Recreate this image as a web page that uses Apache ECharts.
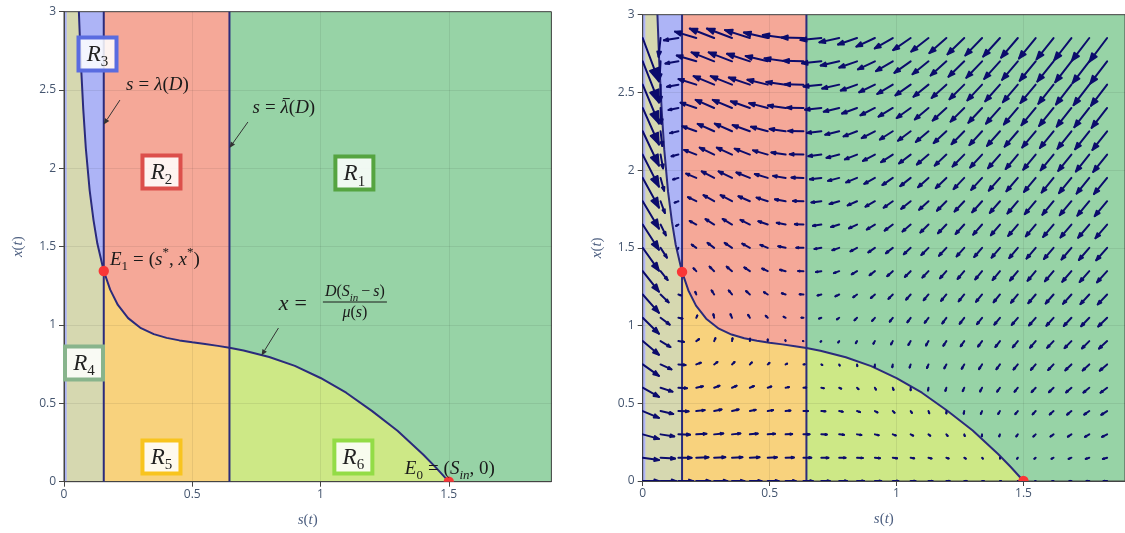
<!DOCTYPE html>
<html><head><meta charset="utf-8">
<script src="https://cdn.jsdelivr.net/npm/echarts@6/dist/echarts.min.js"></script>
<style>html,body{margin:0;padding:0;background:#fff}#c{width:1125px;height:533px}</style>
</head><body><div id="c"></div>
<script>
// ---------------- data ----------------
const sRange = [0, 1.9];
const xRange = [0, 3];
const sTicks = [0, 0.5, 1, 1.5];
const xTicks = [0, 0.5, 1, 1.5, 2, 2.5, 3];
const lambdaD = 0.155;      // s = lambda(D)
const lambdaBarD = 0.645;   // s = lambda-bar(D)
const sIn = 1.5;
const e1Point = [0.155, 1.345];
const e0Point = [1.5, 0];
const stripS = 0.012;       // thin light-blue strip along the x(t) axis

// nullcline x = D(Sin - s)/mu(s)
const nullS = [0.058, 0.065, 0.075, 0.085, 0.1, 0.115, 0.13, 0.155, 0.18, 0.21, 0.25, 0.3, 0.35, 0.4, 0.45, 0.5, 0.55, 0.6, 0.645, 0.7, 0.8, 0.9, 1.0, 1.1, 1.2, 1.3, 1.4, 1.45, 1.5];
const nullX = [3.0, 2.70, 2.38, 2.13, 1.86, 1.67, 1.52, 1.345, 1.226, 1.128, 1.044, 0.98, 0.942, 0.918, 0.902, 0.89, 0.879, 0.867, 0.855, 0.838, 0.796, 0.739, 0.662, 0.568, 0.452, 0.325, 0.174, 0.09, 0];

// quiver grid (columns in s, rows in x) and arrow components (per column, one value per row)
const quiverS = [0, 0.0704, 0.1407, 0.2111, 0.2815, 0.3519, 0.4222, 0.4926, 0.563, 0.6333, 0.7037, 0.7741, 0.8444, 0.9148, 0.9852, 1.0556, 1.1259, 1.1963, 1.2667, 1.337, 1.4074, 1.4778, 1.5481, 1.6185, 1.6889, 1.7593, 1.8296];
const quiverX = [0, 0.15, 0.3, 0.45, 0.6, 0.75, 0.9, 1.05, 1.2, 1.35, 1.5, 1.65, 1.8, 1.95, 2.1, 2.25, 2.4, 2.55, 2.7, 2.85];
const quiverU = [
[0.064,0.064,0.064,0.064,0.064,0.064,0.064,0.064,0.064,0.064,0.064,0.064,0.064,0.064,0.064,0.064,0.064,0.064,0.064,0.064],
[0.061,0.057,0.054,0.05,0.047,0.043,0.039,0.036,0.032,0.028,0.025,0.021,0.017,0.014,0.01,0.007,0.003,-0.001,-0.004,-0.008],
[0.058,0.052,0.046,0.04,0.034,0.028,0.022,0.016,0.01,0.003,-0.003,-0.009,-0.015,-0.021,-0.027,-0.033,-0.039,-0.045,-0.051,-0.057],
[0.055,0.048,0.04,0.033,0.026,0.018,0.011,0.004,-0.004,-0.011,-0.018,-0.026,-0.033,-0.04,-0.048,-0.055,-0.062,-0.07,-0.077,-0.084],
[0.052,0.044,0.036,0.029,0.021,0.013,0.005,-0.003,-0.01,-0.018,-0.026,-0.034,-0.042,-0.049,-0.057,-0.065,-0.073,-0.081,-0.089,-0.096],
[0.049,0.041,0.033,0.026,0.018,0.01,0.002,-0.006,-0.013,-0.021,-0.029,-0.037,-0.045,-0.053,-0.06,-0.068,-0.076,-0.084,-0.092,-0.099],
[0.046,0.038,0.031,0.023,0.016,0.008,0.001,-0.007,-0.015,-0.022,-0.03,-0.037,-0.045,-0.053,-0.06,-0.068,-0.075,-0.083,-0.09,-0.098],
[0.043,0.036,0.029,0.021,0.014,0.007,0,-0.008,-0.015,-0.022,-0.029,-0.037,-0.044,-0.051,-0.058,-0.066,-0.073,-0.08,-0.087,-0.094],
[0.04,0.033,0.026,0.019,0.013,0.006,-0.001,-0.008,-0.015,-0.022,-0.029,-0.035,-0.042,-0.049,-0.056,-0.063,-0.07,-0.076,-0.083,-0.09],
[0.037,0.031,0.024,0.018,0.011,0.005,-0.002,-0.008,-0.015,-0.021,-0.028,-0.034,-0.041,-0.047,-0.054,-0.06,-0.066,-0.073,-0.079,-0.086],
[0.034,0.028,0.022,0.016,0.01,0.004,-0.003,-0.009,-0.015,-0.021,-0.027,-0.033,-0.039,-0.045,-0.051,-0.057,-0.064,-0.07,-0.076,-0.082],
[0.031,0.025,0.019,0.014,0.008,0.002,-0.004,-0.009,-0.015,-0.021,-0.027,-0.032,-0.038,-0.044,-0.05,-0.055,-0.061,-0.067,-0.073,-0.078],
[0.028,0.023,0.017,0.012,0.006,0.001,-0.005,-0.01,-0.015,-0.021,-0.026,-0.032,-0.037,-0.043,-0.048,-0.053,-0.059,-0.064,-0.07,-0.075],
[0.025,0.02,0.015,0.01,0.004,-0.001,-0.006,-0.011,-0.016,-0.021,-0.026,-0.032,-0.037,-0.042,-0.047,-0.052,-0.057,-0.062,-0.067,-0.073],
[0.022,0.017,0.012,0.007,0.003,-0.002,-0.007,-0.012,-0.017,-0.022,-0.027,-0.032,-0.036,-0.041,-0.046,-0.051,-0.056,-0.061,-0.066,-0.071],
[0.019,0.014,0.01,0.005,0,-0.004,-0.009,-0.013,-0.018,-0.023,-0.027,-0.032,-0.037,-0.041,-0.046,-0.05,-0.055,-0.06,-0.064,-0.069],
[0.016,0.012,0.007,0.003,-0.002,-0.006,-0.01,-0.015,-0.019,-0.024,-0.028,-0.032,-0.037,-0.041,-0.046,-0.05,-0.054,-0.059,-0.063,-0.068],
[0.013,0.009,0.005,0,-0.004,-0.008,-0.012,-0.016,-0.021,-0.025,-0.029,-0.033,-0.037,-0.042,-0.046,-0.05,-0.054,-0.058,-0.062,-0.067],
[0.01,0.006,0.002,-0.002,-0.006,-0.01,-0.014,-0.018,-0.022,-0.026,-0.03,-0.034,-0.038,-0.042,-0.046,-0.05,-0.054,-0.058,-0.062,-0.066],
[0.007,0.003,-0.001,-0.005,-0.008,-0.012,-0.016,-0.02,-0.024,-0.027,-0.031,-0.035,-0.039,-0.043,-0.047,-0.05,-0.054,-0.058,-0.062,-0.066],
[0.004,0,-0.003,-0.007,-0.011,-0.014,-0.018,-0.022,-0.025,-0.029,-0.033,-0.036,-0.04,-0.044,-0.047,-0.051,-0.055,-0.058,-0.062,-0.066],
[0.001,-0.003,-0.006,-0.01,-0.013,-0.017,-0.02,-0.024,-0.027,-0.031,-0.034,-0.038,-0.041,-0.045,-0.048,-0.052,-0.055,-0.059,-0.062,-0.066],
[-0.002,-0.005,-0.009,-0.012,-0.016,-0.019,-0.022,-0.026,-0.029,-0.032,-0.036,-0.039,-0.043,-0.046,-0.049,-0.053,-0.056,-0.06,-0.063,-0.066],
[-0.005,-0.008,-0.012,-0.015,-0.018,-0.021,-0.025,-0.028,-0.031,-0.034,-0.038,-0.041,-0.044,-0.047,-0.051,-0.054,-0.057,-0.06,-0.064,-0.067],
[-0.008,-0.011,-0.014,-0.017,-0.021,-0.024,-0.027,-0.03,-0.033,-0.036,-0.039,-0.043,-0.046,-0.049,-0.052,-0.055,-0.058,-0.061,-0.064,-0.068],
[-0.011,-0.014,-0.017,-0.02,-0.023,-0.026,-0.029,-0.032,-0.035,-0.038,-0.041,-0.044,-0.047,-0.05,-0.053,-0.056,-0.059,-0.062,-0.066,-0.069],
[-0.014,-0.017,-0.02,-0.023,-0.026,-0.029,-0.032,-0.035,-0.037,-0.04,-0.043,-0.046,-0.049,-0.052,-0.055,-0.058,-0.061,-0.064,-0.067,-0.07]
];
const quiverV = [
[0,-0.015,-0.029,-0.044,-0.059,-0.074,-0.088,-0.103,-0.118,-0.132,-0.147,-0.162,-0.176,-0.191,-0.206,-0.221,-0.235,-0.25,-0.265,-0.279],
[0,-0.006,-0.013,-0.019,-0.025,-0.032,-0.038,-0.044,-0.051,-0.057,-0.063,-0.07,-0.076,-0.083,-0.089,-0.095,-0.102,-0.108,-0.114,-0.121],
[0,-0.001,-0.002,-0.002,-0.003,-0.004,-0.005,-0.005,-0.006,-0.007,-0.008,-0.009,-0.009,-0.01,-0.011,-0.012,-0.013,-0.013,-0.014,-0.015],
[0,0.002,0.004,0.006,0.009,0.011,0.013,0.015,0.017,0.019,0.021,0.023,0.026,0.028,0.03,0.032,0.034,0.036,0.038,0.041],
[0,0.003,0.006,0.01,0.013,0.016,0.019,0.023,0.026,0.029,0.032,0.035,0.039,0.042,0.045,0.048,0.052,0.055,0.058,0.061],
[0,0.003,0.006,0.01,0.013,0.016,0.019,0.023,0.026,0.029,0.032,0.036,0.039,0.042,0.045,0.049,0.052,0.055,0.058,0.061],
[0,0.003,0.005,0.008,0.011,0.013,0.016,0.019,0.022,0.024,0.027,0.03,0.032,0.035,0.038,0.04,0.043,0.046,0.049,0.051],
[0,0.002,0.004,0.006,0.008,0.01,0.011,0.013,0.015,0.017,0.019,0.021,0.023,0.025,0.027,0.029,0.031,0.032,0.034,0.036],
[0,0.001,0.002,0.003,0.004,0.005,0.006,0.007,0.008,0.009,0.01,0.011,0.012,0.013,0.014,0.015,0.016,0.017,0.019,0.02],
[0,0,0,0,0.001,0.001,0.001,0.001,0.001,0.001,0.001,0.002,0.002,0.002,0.002,0.002,0.002,0.002,0.003,0.003],
[0,-0.001,-0.001,-0.002,-0.003,-0.004,-0.004,-0.005,-0.006,-0.006,-0.007,-0.008,-0.008,-0.009,-0.01,-0.011,-0.011,-0.012,-0.013,-0.013],
[0,-0.001,-0.003,-0.004,-0.006,-0.007,-0.009,-0.01,-0.012,-0.013,-0.015,-0.016,-0.018,-0.019,-0.021,-0.022,-0.024,-0.025,-0.027,-0.028],
[0,-0.002,-0.004,-0.007,-0.009,-0.011,-0.013,-0.016,-0.018,-0.02,-0.022,-0.025,-0.027,-0.029,-0.031,-0.033,-0.036,-0.038,-0.04,-0.042],
[0,-0.003,-0.006,-0.009,-0.012,-0.015,-0.017,-0.02,-0.023,-0.026,-0.029,-0.032,-0.035,-0.038,-0.041,-0.044,-0.047,-0.049,-0.052,-0.055],
[0,-0.004,-0.007,-0.011,-0.014,-0.018,-0.021,-0.025,-0.028,-0.032,-0.035,-0.039,-0.042,-0.046,-0.049,-0.053,-0.056,-0.06,-0.063,-0.067],
[0,-0.004,-0.008,-0.012,-0.016,-0.02,-0.025,-0.029,-0.033,-0.037,-0.041,-0.045,-0.049,-0.053,-0.057,-0.061,-0.065,-0.069,-0.074,-0.078],
[0,-0.005,-0.009,-0.014,-0.018,-0.023,-0.028,-0.032,-0.037,-0.041,-0.046,-0.051,-0.055,-0.06,-0.064,-0.069,-0.074,-0.078,-0.083,-0.087],
[0,-0.005,-0.01,-0.015,-0.02,-0.025,-0.03,-0.036,-0.041,-0.046,-0.051,-0.056,-0.061,-0.066,-0.071,-0.076,-0.081,-0.086,-0.091,-0.097],
[0,-0.006,-0.011,-0.017,-0.022,-0.028,-0.033,-0.039,-0.044,-0.05,-0.055,-0.061,-0.066,-0.072,-0.077,-0.083,-0.088,-0.094,-0.099,-0.105],
[0,-0.006,-0.012,-0.018,-0.024,-0.03,-0.035,-0.041,-0.047,-0.053,-0.059,-0.065,-0.071,-0.077,-0.083,-0.089,-0.095,-0.101,-0.106,-0.112],
[0,-0.006,-0.013,-0.019,-0.025,-0.031,-0.038,-0.044,-0.05,-0.057,-0.063,-0.069,-0.075,-0.082,-0.088,-0.094,-0.101,-0.107,-0.113,-0.119],
[0,-0.007,-0.013,-0.02,-0.026,-0.033,-0.04,-0.046,-0.053,-0.06,-0.066,-0.073,-0.079,-0.086,-0.093,-0.099,-0.106,-0.113,-0.119,-0.126],
[0,-0.007,-0.014,-0.021,-0.028,-0.035,-0.042,-0.049,-0.056,-0.062,-0.069,-0.076,-0.083,-0.09,-0.097,-0.104,-0.111,-0.118,-0.125,-0.132],
[0,-0.007,-0.014,-0.022,-0.029,-0.036,-0.043,-0.051,-0.058,-0.065,-0.072,-0.08,-0.087,-0.094,-0.101,-0.108,-0.116,-0.123,-0.13,-0.137],
[0,-0.008,-0.015,-0.023,-0.03,-0.038,-0.045,-0.053,-0.06,-0.068,-0.075,-0.083,-0.09,-0.098,-0.105,-0.113,-0.12,-0.128,-0.135,-0.143],
[0,-0.008,-0.016,-0.023,-0.031,-0.039,-0.047,-0.054,-0.062,-0.07,-0.078,-0.085,-0.093,-0.101,-0.109,-0.116,-0.124,-0.132,-0.14,-0.147],
[0,-0.008,-0.016,-0.024,-0.032,-0.04,-0.048,-0.056,-0.064,-0.072,-0.08,-0.088,-0.096,-0.104,-0.112,-0.12,-0.128,-0.136,-0.144,-0.152]
];

// region labels and annotations (left panel)
const regionLabels = [
  {sub: '1', s: 1.132, x: 1.970, color: '#55a440'},
  {sub: '2', s: 0.380, x: 1.977, color: '#dc4f4b'},
  {sub: '3', s: 0.1306, x: 2.73, color: '#5a6ce0'},
  {sub: '4', s: 0.078, x: 0.758, color: '#88b48c'},
  {sub: '5', s: 0.380, x: 0.158, color: '#f8c41e'},
  {sub: '6', s: 1.128, x: 0.158, color: '#93dc46'}
];
// each math label is a list of [style, text] pieces; 'bar' pieces get an overline
const mathLabels = [
  {s: 0.3644, x: 2.532, align: 'center', parts: [['it', 's'], ['eq', '='], ['it', 'λ'], ['rm', '('], ['it', 'D'], ['rm', ')']]},
  {s: 0.857, x: 2.385, align: 'center', parts: [['it', 's'], ['eq', '='], ['bar', 'λ'], ['rm', '('], ['it', 'D'], ['rm', ')']]},
  {s: 0.179, x: 1.415, align: 'left', parts: [['it', 'E'], ['sub', '1'], ['eq', '='], ['rm', '('], ['it', 's'], ['sup', '*'], ['rm', ', '], ['it', 'x'], ['sup', '*'], ['rm', ')']]},
  {s: 1.504, x: 0.081, align: 'center', parts: [['it', 'E'], ['sub', '0'], ['eq', '='], ['rm', '('], ['it', 'S'], ['subit', 'in'], ['rm', ', 0)']]}
];
const fractionLabel = {eqS: 0.904, eqX: 1.134, barS: 1.134, barX: 1.147,
  num: [['it', 'D'], ['rm', '('], ['it', 'S'], ['subit', 'in'], ['bin', '−'], ['it', 's'], ['rm', ')']],
  den: [['it', 'μ'], ['rm', '('], ['it', 's'], ['rm', ')']]};
const pointers = [
  {from: [0.218, 2.436], to: [0.155, 2.28]},
  {from: [0.717, 2.296], to: [0.645, 2.13]},
  {from: [0.836, 0.981], to: [0.770, 0.806]}
];

// ---------------- styling ----------------
const regionColors = {R1: '#97d3a6', R2: '#f5a898', R3: '#adb4f6', R4: '#d6d8b0', R5: '#f8d27d', R6: '#cde886'};
const lineColor = '#2b2b7c';
const arrowColor = '#0c0c6c';
const dotColor = '#fa3636';
const mathFont = "'Liberation Serif','DejaVu Serif',serif";
const tickColor = '#44556f';
const titleColor = '#4d5f80';
const inkColor = '#1a1a1a';

function mathRich(base) {
  const lh = base + 8;
  const subSize = Math.round(base * 0.7);
  const mk = (o) => Object.assign({fontFamily: mathFont, fontSize: base, lineHeight: lh, fill: inkColor}, o);
  return {
    it: mk({fontStyle: 'italic'}),
    bar: mk({fontStyle: 'italic'}),
    rm: mk({}),
    eq: mk({padding: [0, Math.round(base * 0.28), 0, Math.round(base * 0.28)]}),
    bin: mk({padding: [0, Math.round(base * 0.2), 0, Math.round(base * 0.2)]}),
    sub: mk({fontSize: subSize, lineHeight: subSize + 1, verticalAlign: 'bottom'}),
    subit: mk({fontStyle: 'italic', fontSize: subSize, lineHeight: subSize + 1, verticalAlign: 'bottom'}),
    sup: mk({fontSize: subSize, lineHeight: subSize + 1, verticalAlign: 'top'})
  };
}
const measureCtx = document.createElement('canvas').getContext('2d');
function partWidth(rich, style, txt) {
  const r = rich[style];
  measureCtx.font = (r.fontStyle === 'italic' ? 'italic ' : '') + r.fontSize + 'px ' + r.fontFamily;
  const pad = r.padding ? r.padding[1] + r.padding[3] : 0;
  return measureCtx.measureText(txt).width + pad;
}
function mathElements(parts, base, cx, cy, align) {
  const rich = mathRich(base);
  const text = parts.map(p => '{' + p[0] + '|' + p[1] + '}').join('');
  const widths = parts.map(p => partWidth(rich, p[0], p[1]));
  const total = widths.reduce((a, b) => a + b, 0);
  const x0 = align === 'center' ? cx - total / 2 : cx;
  const els = [{type: 'text', x: x0, y: cy, style: {text: text, align: 'left', verticalAlign: 'middle', rich: rich}}];
  let acc = x0;
  parts.forEach((p, i) => {
    if (p[0] === 'bar') {
      const yb = cy - base * 0.5;
      els.push({type: 'line', shape: {x1: acc + base * 0.12, y1: yb, x2: acc + widths[i] + base * 0.05, y2: yb}, style: {stroke: inkColor, lineWidth: 1}});
    }
    acc += widths[i];
  });
  return {els: els, width: total};
}

// ---------------- derived structures for the library ----------------
function regionPolygons() {
  const iE1 = nullS.indexOf(lambdaD), iE2 = nullS.indexOf(lambdaBarD), iE0 = nullS.indexOf(sIn);
  const seg = (a, b) => nullS.slice(a, b + 1).map((s, i) => [s, nullX[a + i]]);
  const top = xRange[1], right = sRange[1];
  return [
    {color: regionColors.R3, pts: [[0, 0], [stripS, 0], [stripS, top], [0, top]]},
    {color: regionColors.R4, pts: [[stripS, 0], [stripS, top]].concat(seg(0, iE1), [[lambdaD, 0]])},
    {color: regionColors.R3, pts: seg(0, iE1).concat([[lambdaD, top]])},
    {color: regionColors.R2, pts: [[lambdaD, top]].concat(seg(iE1, iE2), [[lambdaBarD, top]])},
    {color: regionColors.R5, pts: [[lambdaD, 0]].concat(seg(iE1, iE2), [[lambdaBarD, 0]])},
    {color: regionColors.R1, pts: [[lambdaBarD, top]].concat(seg(iE2, iE0), [[right, 0], [right, top]])},
    {color: regionColors.R6, pts: [[lambdaBarD, 0]].concat(seg(iE2, iE0))}
  ];
}
const polys = regionPolygons();
const nullData = nullS.map((s, i) => [s, nullX[i]]);
const quiverData = [];
quiverS.forEach((s, j) => quiverX.forEach((x, k) => quiverData.push([s, x, quiverU[j][k], quiverV[j][k]])));

const grids = [
  {left: 64, top: 11.7, width: 487.4, height: 470},
  {left: 642.7, top: 14.7, width: 483.4, height: 466.3}
];

const nameRich = {
  it: {fontFamily: mathFont, fontStyle: 'italic', fontSize: 15, color: titleColor},
  rm: {fontFamily: mathFont, fontSize: 15, color: titleColor}
};

const xAxes = grids.map((g, i) => ({
  gridIndex: i, type: 'value', min: sRange[0], max: sRange[1], interval: 0.5, z: 3,
  name: '{it|s}{rm|(}{it|t}{rm|)}', nameLocation: 'middle', nameGap: 31,
  nameTextStyle: {rich: nameRich},
  axisLine: {show: true, onZero: false, lineStyle: {color: '#444', width: 1}},
  axisTick: {show: true, length: 5, lineStyle: {color: '#444'}, customValues: sTicks},
  axisLabel: {customValues: sTicks, color: tickColor, fontFamily: 'Open Sans', fontSize: 12, margin: 7,
    formatter: v => (sTicks.indexOf(v) >= 0 ? String(v) : '')},
  splitLine: {show: true, lineStyle: {color: 'rgba(0,0,0,0.07)', width: 1}}
}));
const yAxes = grids.map((g, i) => ({
  gridIndex: i, type: 'value', min: xRange[0], max: xRange[1], interval: 0.5, z: 3,
  name: '{it|x}{rm|(}{it|t}{rm|)}', nameLocation: 'middle', nameGap: 38,
  nameTextStyle: {rich: nameRich},
  axisLine: {show: true, onZero: false, lineStyle: {color: '#444', width: 1}},
  axisTick: {show: true, length: 5, lineStyle: {color: '#444'}},
  axisLabel: {color: tickColor, fontFamily: 'Open Sans', fontSize: 12, margin: 8},
  splitLine: {show: true, lineStyle: {color: 'rgba(0,0,0,0.07)', width: 1}}
}));

const series = [];
grids.forEach((g, gi) => {
  series.push({
    type: 'custom', xAxisIndex: gi, yAxisIndex: gi, z: 1, silent: true, clip: true,
    data: polys.map((p, i) => [0, 0, i]),
    renderItem: (params, api) => {
      const p = polys[params.dataIndex];
      return {type: 'polygon', shape: {points: p.pts.map(pt => api.coord(pt))},
        style: {fill: p.color, stroke: p.color, lineWidth: 0.6}};
    }
  });
  series.push({
    type: 'line', xAxisIndex: gi, yAxisIndex: gi, z: 4, data: nullData, showSymbol: false, silent: true,
    lineStyle: {color: lineColor, width: 2}
  });
  [lambdaD, lambdaBarD].forEach(sv => series.push({
    type: 'line', xAxisIndex: gi, yAxisIndex: gi, z: 4, showSymbol: false, silent: true,
    data: [[sv, xRange[0]], [sv, xRange[1]]], lineStyle: {color: lineColor, width: 2}
  }));
  if (gi === 1) {
    series.push({
      type: 'custom', xAxisIndex: gi, yAxisIndex: gi, z: 5, silent: true, clip: true,
      data: quiverData,
      renderItem: (params, api) => {
        const s = api.value(0), x = api.value(1), u = api.value(2), v = api.value(3);
        const p0 = api.coord([s, x]);
        const p1 = api.coord([s + u, x + v]);
        const dx = p1[0] - p0[0], dy = p1[1] - p0[1];
        const L = 0.3 * Math.sqrt(dx * dx + dy * dy);
        const ang = Math.atan2(dy, dx);
        const a = Math.PI / 9;
        const b1 = [p1[0] - L * Math.cos(ang + a), p1[1] - L * Math.sin(ang + a)];
        const b2 = [p1[0] - L * Math.cos(ang - a), p1[1] - L * Math.sin(ang - a)];
        const st = {stroke: arrowColor, lineWidth: 2, lineCap: 'round', lineJoin: 'round', fill: null};
        return {type: 'group', children: [
          {type: 'polyline', shape: {points: [p0, p1]}, style: st},
          {type: 'polygon', shape: {points: [b1, p1, b2]}, style: {stroke: arrowColor, lineWidth: 1.8, lineJoin: 'round', fill: arrowColor}}
        ]};
      }
    });
  }
  series.push({
    type: 'custom', xAxisIndex: gi, yAxisIndex: gi, z: 6, silent: true, clip: true,
    data: [e1Point, e0Point],
    renderItem: (params, api) => {
      const c = api.coord([api.value(0), api.value(1)]);
      return {type: 'circle', shape: {cx: c[0], cy: c[1], r: 5.2}, style: {fill: dotColor}};
    }
  });
});

// annotations on left panel
series.push({
  type: 'custom', xAxisIndex: 0, yAxisIndex: 0, z: 8, silent: true,
  data: pointers.map((p, i) => [p.to[0], p.to[1], i]),
  renderItem: (params, api) => {
    const p = pointers[params.dataIndex];
    const a = api.coord(p.from), b = api.coord(p.to);
    const ang = Math.atan2(b[1] - a[1], b[0] - a[0]);
    const hl = 6, hw = 2.6;
    const bx = b[0] - hl * Math.cos(ang), by = b[1] - hl * Math.sin(ang);
    const h1 = [bx + hw * Math.sin(ang), by - hw * Math.cos(ang)];
    const h2 = [bx - hw * Math.sin(ang), by + hw * Math.cos(ang)];
    return {type: 'group', children: [
      {type: 'line', shape: {x1: a[0], y1: a[1], x2: bx, y2: by}, style: {stroke: '#333', lineWidth: 1}},
      {type: 'polygon', shape: {points: [b, h1, h2]}, style: {fill: '#333'}}
    ]};
  }
});
series.push({
  type: 'custom', xAxisIndex: 0, yAxisIndex: 0, z: 9, silent: true,
  data: regionLabels.map((r, i) => [r.s, r.x, i]),
  renderItem: (params, api) => {
    const r = regionLabels[params.dataIndex];
    const c = api.coord([r.s, r.x]);
    const w = 38, h = 33;
    return {type: 'group', children: [
      {type: 'rect', shape: {x: c[0] - w / 2, y: c[1] - h / 2, width: w, height: h},
        style: {fill: 'rgba(255,255,255,0.86)', stroke: r.color, lineWidth: 4}},
      {type: 'text', x: c[0], y: c[1] + 1, style: {text: '{R|R}{s|' + r.sub + '}', align: 'center', verticalAlign: 'middle',
        rich: {
          R: {fontFamily: mathFont, fontStyle: 'italic', fontSize: 23, lineHeight: 30, fill: '#222'},
          s: {fontFamily: mathFont, fontSize: 15, lineHeight: 15, verticalAlign: 'bottom', fill: '#222'}
        }}}
    ]};
  }
});
series.push({
  type: 'custom', xAxisIndex: 0, yAxisIndex: 0, z: 9, silent: true,
  data: mathLabels.map((m, i) => [m.s, m.x, i]),
  renderItem: (params, api) => {
    const m = mathLabels[params.dataIndex];
    const c = api.coord([m.s, m.x]);
    return {type: 'group', children: mathElements(m.parts, 19, c[0], c[1], m.align).els};
  }
});
series.push({
  type: 'custom', xAxisIndex: 0, yAxisIndex: 0, z: 9, silent: true,
  data: [[fractionLabel.barS, fractionLabel.barX]],
  renderItem: (params, api) => {
    const f = fractionLabel;
    const e = api.coord([f.eqS, f.eqX]);
    const b = api.coord([f.barS, f.barX]);
    const num = mathElements(f.num, 16, b[0], b[1] - 10, 'center');
    const den = mathElements(f.den, 16, b[0], b[1] + 11, 'center');
    const hw = Math.max(num.width, den.width) / 2 + 2;
    const lhs = mathElements([['it', 'x'], ['eq', '=']], 22, e[0], e[1], 'center');
    return {type: 'group', children: lhs.els.concat(num.els, den.els, [
      {type: 'line', shape: {x1: b[0] - hw, y1: b[1], x2: b[0] + hw, y2: b[1]}, style: {stroke: inkColor, lineWidth: 1}}
    ])};
  }
});

const chart = echarts.init(document.getElementById('c'), null, {renderer: 'canvas', width: 1125, height: 533});
chart.setOption({
  animation: false,
  backgroundColor: '#fff',
  grid: grids.map(g => Object.assign({show: true, borderColor: '#444', borderWidth: 1, backgroundColor: 'transparent', z: 3}, g)),
  xAxis: xAxes,
  yAxis: yAxes,
  series: series
});
</script>
</body></html>
